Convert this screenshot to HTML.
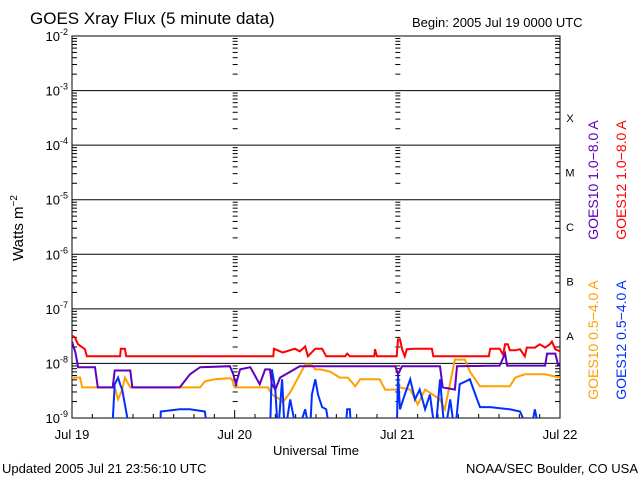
<!DOCTYPE html>
<html><head><meta charset="utf-8"><style>
body{margin:0;background:#fff}
svg text{font-family:"Liberation Sans",sans-serif}
</style></head><body>
<svg id="chart" width="640" height="480" xmlns="http://www.w3.org/2000/svg">
<rect width="640" height="480" fill="#fff"/>
<text x="30" y="24" font-size="17">GOES Xray Flux (5 minute data)</text>
<text x="412" y="27" font-size="13">Begin:  2005 Jul 19 0000 UTC</text>
<text transform="translate(23,228) rotate(-90)" text-anchor="middle" font-size="15">Watts m<tspan dy="-6" font-size="10">−2</tspan></text>
<text x="316" y="455" text-anchor="middle" font-size="13">Universal Time</text>
<text x="2" y="473" font-size="13">Updated 2005 Jul 21 23:56:10 UTC</text>
<text x="638" y="473" text-anchor="end" font-size="13">NOAA/SEC Boulder, CO USA</text>
<text transform="translate(598,180) rotate(-90)" text-anchor="middle" font-size="14" fill="#6000c0">GOES10 1.0−8.0 A</text>
<text transform="translate(626,180) rotate(-90)" text-anchor="middle" font-size="14" fill="#ff0000">GOES12 1.0−8.0 A</text>
<text transform="translate(598,340) rotate(-90)" text-anchor="middle" font-size="14" fill="#ffa000">GOES10 0.5−4.0 A</text>
<text transform="translate(626,340) rotate(-90)" text-anchor="middle" font-size="14" fill="#0030ff">GOES12 0.5−4.0 A</text>
<g id="axes"></g>
<g id="series"></g>
</svg>
<script>
const yDecades=[-2,-3,-4,-5,-6,-7,-8,-9];
const classLetters=['X','M','C','B','A'];
const classLogs=[-3.5,-4.5,-5.5,-6.5,-7.5];
const dayLabels=['Jul 19','Jul 20','Jul 21','Jul 22'];
const dayHours=[0,24,48,72];
const redH=[0,0.4,0.9,1.9,2.2,7.1,7.2,7.8,8.0,29.7,29.8,31.1,32.9,33.6,34.4,34.8,35.9,36.9,37.5,40.3,40.6,41.0,44.6,44.7,45.0,47.9,48.1,48.4,48.7,49.1,49.4,50.5,51.3,53.1,53.3,61.5,61.7,63.1,63.6,63.9,64.3,64.6,65.4,66.1,66.8,67.1,68.3,69.0,69.8,70.5,70.8,71.3,72];
const redV=[-7.49,-7.52,-7.65,-7.74,-7.87,-7.87,-7.73,-7.73,-7.87,-7.87,-7.73,-7.80,-7.73,-7.78,-7.69,-7.87,-7.73,-7.73,-7.87,-7.87,-7.82,-7.87,-7.87,-7.74,-7.87,-7.87,-7.56,-7.56,-7.74,-7.87,-7.74,-7.73,-7.73,-7.73,-7.87,-7.87,-7.73,-7.73,-7.84,-7.65,-7.65,-7.76,-7.76,-7.74,-7.87,-7.71,-7.71,-7.65,-7.71,-7.65,-7.60,-7.74,-7.78];
const purH=[0,0.5,0.9,3.4,3.8,4.4,6.0,6.3,8.6,8.9,15.2,15.9,17.4,18.9,23.3,23.8,24.2,24.8,26.3,27.7,28.5,29.2,29.5,30.0,30.7,33.6,47.7,48.1,48.7,54.3,54.7,56.5,56.8,63.1,63.9,64.2,69.8,70.1,71.3,71.7,72];
const purV=[-7.60,-7.80,-8.07,-8.07,-8.44,-8.44,-8.44,-8.13,-8.13,-8.44,-8.44,-8.44,-8.20,-8.07,-8.05,-8.20,-8.38,-8.11,-8.07,-8.38,-8.11,-8.11,-8.38,-8.48,-8.26,-8.05,-8.05,-8.20,-8.05,-8.05,-8.44,-8.48,-8.05,-8.04,-7.82,-8.04,-8.04,-7.82,-7.82,-8.02,-8.02];
const oraH=[0,1.2,1.5,6.3,6.8,7.4,7.8,8.6,18.9,19.6,21.1,23.3,23.6,24.0,28.9,29.5,30.7,31.1,32.2,34.4,35.3,35.9,36.6,38.1,39.5,40.7,41.8,42.5,45.4,46.2,47.9,48.4,49.9,51.0,52.1,54.3,55.0,56.5,57.98,58.7,60.2,64.6,65.4,66.8,69.8,72];
const oraV=[-8.26,-8.26,-8.44,-8.44,-8.66,-8.48,-8.26,-8.44,-8.44,-8.33,-8.29,-8.27,-8.29,-8.44,-8.44,-8.57,-8.66,-8.71,-8.53,-8.02,-8.02,-8.11,-8.11,-8.15,-8.26,-8.26,-8.42,-8.29,-8.29,-8.48,-8.48,-8.44,-8.48,-8.75,-8.48,-8.66,-8.84,-7.93,-7.93,-8.15,-8.42,-8.42,-8.26,-8.20,-8.20,-8.26];
const bluH=[0,5.9,6.3,6.8,7.1,7.4,7.8,8.6,13.0,13.1,14.5,15.9,17.4,19.6,20.1,29.2,29.5,30.0,30.4,31.0,31.4,32.2,33.2,34.4,35.1,35.4,35.9,36.3,36.9,37.5,38.1,40.3,40.6,41.0,41.2,47.9,48.1,48.4,49.1,49.9,50.6,51.3,52.1,52.8,53.6,54.3,55.0,55.8,56.5,57.2,58.7,59.5,60.2,61.7,64.6,66.1,67.6,68.3,69.0,72];
const bluV=[-9.3,-9.3,-8.38,-8.26,-8.38,-8.48,-8.75,-9.3,-9.3,-8.88,-8.86,-8.84,-8.84,-8.88,-9.3,-9.3,-8.11,-8.48,-9.3,-8.29,-9.3,-8.66,-9.3,-8.84,-9.3,-8.57,-8.29,-8.57,-8.80,-8.84,-9.3,-9.3,-8.84,-8.84,-9.3,-9.3,-8.20,-8.84,-8.57,-8.29,-8.66,-8.48,-8.84,-8.57,-9.3,-8.29,-9.3,-8.66,-9.3,-8.38,-8.29,-8.57,-8.80,-8.80,-8.84,-8.88,-9.3,-8.84,-9.3,-9.3];

const X0=72,X1=560,Y0=36,Y1=418;
function xs(h){return X0+(h/72)*(X1-X0);}
function ys(l){return Y1-(l+9)*(Y1-Y0)/7;}
const NS='http://www.w3.org/2000/svg';
function mk(tag,attrs,parent){const e=document.createElementNS(NS,tag);for(const k in attrs)e.setAttribute(k,attrs[k]);parent.appendChild(e);return e;}
const ax=document.getElementById('axes');
// frame
const fr=mk('rect',{x:X0,y:Y0,width:X1-X0,height:Y1-Y0,fill:'none',stroke:'#000','stroke-width':1},ax);


yDecades.forEach(d=>{
  const y=ys(d);
  const ln=mk('line',{x1:X0,x2:X1,y1:y,y2:y,stroke:'#000','stroke-width':1},ax);
  
  
  const t=mk('text',{x:X0-4,y:y+5,'text-anchor':'end','font-size':13},ax);
  
  
  t.innerHTML='10<tspan dy="-6" font-size="9">'+d+'</tspan>';
  if(d>-9){for(let m=2;m<=9;m++){
    const ym=ys(d-1+Math.log10(m));
    [[X0,X0+5],[X1-5,X1],[xs(24)-2,xs(24)+3],[xs(48)-2,xs(48)+3]].forEach(p=>{
      const tk=mk('line',{x1:p[0],x2:p[1],y1:ym,y2:ym,stroke:'#000','stroke-width':1},ax);
      
      
    });
  }}
});
classLetters.forEach((c,i)=>{
  const t=mk('text',{x:570,y:ys(classLogs[i])+4,'text-anchor':'middle','font-size':11,'font-family':'Liberation Serif, serif'},ax);
  
  
  t.textContent=c;
});
dayLabels.forEach((lb,i)=>{
  const x=xs(dayHours[i]);
  const t=mk('text',{x:x,y:439,'text-anchor':'middle','font-size':13},ax);
  
  
  t.textContent=lb;
});
for(let h=0;h<=72;h+=3){
  const x=xs(h);const len=h%24===0?8:4;
  const tk=mk('line',{x1:x,x2:x,y1:Y1,y2:Y1-len,stroke:'#000'},ax);
  
  
}
const sg=document.getElementById('series');
const clip=mk('clipPath',{id:'pc'},sg);mk('rect',{x:X0,y:Y0,width:X1-X0,height:Y1-Y0},clip);
function series(H,V,col,name){
  const pts=H.map((h,i)=>xs(h).toFixed(1)+','+ys(V[i]).toFixed(1)).join(' ');
  const p=mk('polyline',{points:pts,fill:'none',stroke:col,'stroke-width':2,'clip-path':'url(#pc)'},sg);
  
  
}
series(redH,redV,'#ff0000','goes12-long-line');
series(oraH,oraV,'#ffa000','goes10-short-line');
series(bluH,bluV,'#0030ff','goes12-short-line');
series(purH,purV,'#6000c0','goes10-long-line');
</script>
</body></html>
